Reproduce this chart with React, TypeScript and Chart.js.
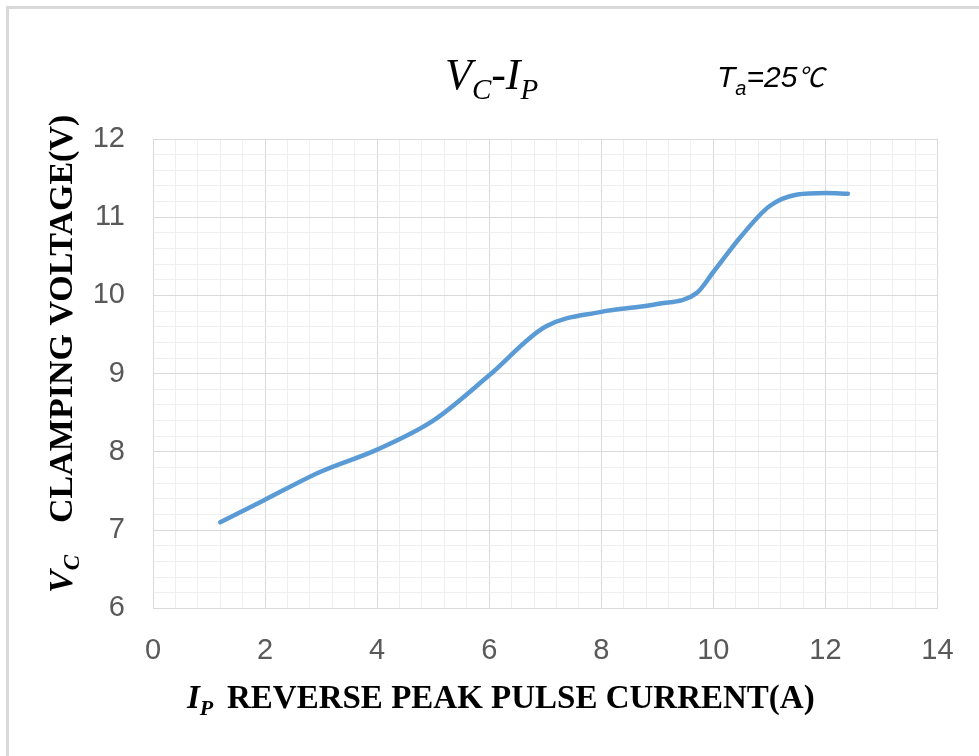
import React, { useEffect, useRef } from "react";
import { Chart, registerables } from "chart.js";

Chart.register(...registerables);

// ---- data ----
const currentA = [1.2, 2, 3, 4, 5, 6, 7, 8, 9, 9.7, 10, 10.5, 11, 11.5, 12, 12.4];
const clampV = [7.1, 7.39, 7.75, 8.03, 8.4, 8.98, 9.6, 9.79, 9.89, 10.03, 10.3, 10.76, 11.14, 11.29, 11.31, 11.3];
const xMajorTicks = [0, 2, 4, 6, 8, 10, 12, 14];
const yMajorTicks = [6, 7, 8, 9, 10, 11, 12];

const SERIF = "'Liberation Serif', 'Times New Roman', serif";
const NARROW = "'Liberation Sans Narrow', 'Liberation Sans', 'Noto Sans CJK SC', sans-serif";

const isIn = (v: number, list: number[]) => list.some((m) => Math.abs(m - v) < 1e-6);

type Run = { text: string; font: string; dy?: number; at?: number };

function drawRuns(ctx: CanvasRenderingContext2D, x: number, y: number, rot: number, runs: Run[], color: string) {
  ctx.save();
  ctx.translate(x, y);
  if (rot) ctx.rotate(rot);
  ctx.fillStyle = color;
  ctx.textBaseline = "alphabetic";
  ctx.textAlign = "left";
  let cx = 0;
  for (const r of runs) {
    if (r.at !== undefined) cx = r.at;
    ctx.font = r.font;
    ctx.fillText(r.text, cx, r.dy || 0);
    cx += ctx.measureText(r.text).width;
  }
  ctx.restore();
}

const textPlugin = {
  id: "richTexts",
  afterDraw(chart: any) {
    const ctx: CanvasRenderingContext2D = chart.ctx;
    // main title V_C-I_P
    drawRuns(ctx, 445, 89, 0, [
      { text: "V", font: `italic 44px ${SERIF}` },
      { text: "C", font: `italic 29px ${SERIF}`, dy: 10 },
      { text: "-", font: `italic 44px ${SERIF}` },
      { text: "I", font: `italic 44px ${SERIF}` },
      { text: "P", font: `italic 29px ${SERIF}`, dy: 10 },
    ], "#000");
    // Ta=25℃
    drawRuns(ctx, 717, 87, 0, [
      { text: "T", font: `italic 30px ${NARROW}` },
      { text: "a", font: `italic 20px ${NARROW}`, dy: 8 },
      { text: "=25", font: `italic 30px ${NARROW}` },
      { text: "℃", font: `italic 27px ${NARROW}` },
    ], "#000");
    // x axis title
    drawRuns(ctx, 187, 708, 0, [
      { text: "I", font: `italic bold 33px ${SERIF}` },
      { text: "P", font: `italic bold 22px ${SERIF}`, dy: 7 },
      { text: "REVERSE PEAK PULSE CURRENT(A)", font: `bold 33px ${SERIF}`, at: 40 },
    ], "#000");
    // y axis title (rotated)
    drawRuns(ctx, 72, 593, -Math.PI / 2, [
      { text: "V", font: `italic bold 34px ${SERIF}` },
      { text: "C", font: `italic bold 23px ${SERIF}`, dy: 7 },
      { text: "CLAMPING VOLTAGE(V)", font: `bold 34px ${SERIF}`, at: 70 },
    ], "#000");
  },
};

export default function App() {
  const ref = useRef<HTMLCanvasElement | null>(null);

  useEffect(() => {
    const canvas = ref.current;
    if (!canvas) return;
    const chart = new Chart(canvas, {
      type: "scatter",
      data: {
        datasets: [
          {
            label: "Vc-Ip",
            data: currentA.map((x, i) => ({ x, y: clampV[i] })),
            showLine: true,
            borderColor: "#5b9bd5",
            backgroundColor: "#5b9bd5",
            borderWidth: 4.5,
            pointRadius: 0,
            pointHoverRadius: 0,
            cubicInterpolationMode: "monotone",
            borderCapStyle: "round",
            borderJoinStyle: "round",
          } as any,
        ],
      },
      options: {
        animation: false,
        responsive: false,
        devicePixelRatio: 1,
        layout: { padding: { top: 139, right: 41.5, left: 0, bottom: 0 } },
        plugins: { legend: { display: false }, tooltip: { enabled: false }, title: { display: false } },
        scales: {
          x: {
            type: "linear",
            min: 0,
            max: 14,
            afterFit: (s: any) => { s.height = 147.6; },
            ticks: {
              stepSize: 0.4,
              autoSkip: false,
              maxRotation: 0,
              padding: 25,
              color: "#595959",
              font: { family: NARROW, size: 29 },
              callback: (v: any) => (isIn(Number(v), xMajorTicks) ? String(Math.round(Number(v))) : ""),
            },
            grid: {
              drawTicks: false,
              lineWidth: 1,
              color: (c: any) => (c.tick && isIn(c.tick.value, xMajorTicks) ? "#d9d9d9" : "#efefef"),
            },
            border: { display: true, color: "#d9d9d9" },
          },
          y: {
            type: "linear",
            min: 6,
            max: 12,
            afterFit: (s: any) => { s.width = 153; },
            ticks: {
              stepSize: 0.2,
              autoSkip: false,
              padding: 28,
              color: "#595959",
              font: { family: NARROW, size: 29 },
              callback: (v: any) => (isIn(Number(v), yMajorTicks) ? String(Math.round(Number(v))) : ""),
            },
            grid: {
              drawTicks: false,
              lineWidth: 1,
              color: (c: any) => (c.tick && isIn(c.tick.value, yMajorTicks) ? "#d9d9d9" : "#efefef"),
            },
            border: { display: true, color: "#d9d9d9" },
          },
        },
      },
      plugins: [textPlugin],
    });
    return () => chart.destroy();
  }, []);

  return (
    <div style={{ position: "fixed", left: 0, top: 0, width: 979, height: 756, background: "#fff", overflow: "hidden" }}>
      <div
        style={{
          position: "absolute",
          left: 6,
          top: 6,
          width: 1100,
          height: 900,
          borderLeft: "3px solid #d9d9d9",
          borderTop: "3px solid #d9d9d9",
          boxSizing: "border-box",
        }}
      />
      <canvas
        ref={ref}
        width={979}
        height={756}
        style={{ position: "absolute", left: 0, top: 0, width: 979, height: 756 }}
      />
    </div>
  );
}
